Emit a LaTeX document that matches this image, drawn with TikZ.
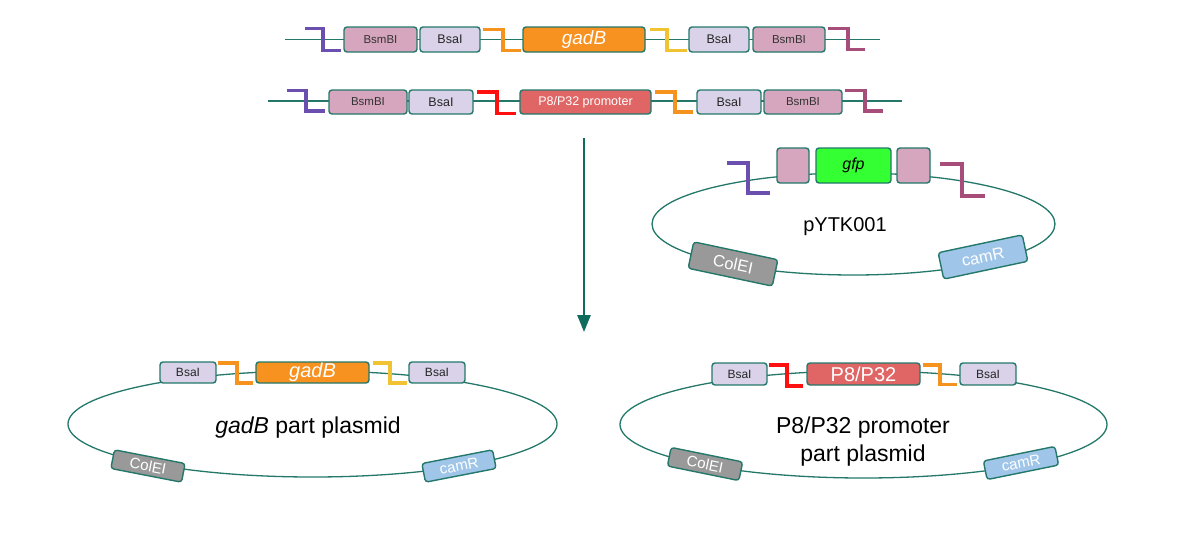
\documentclass[tikz,border=0pt]{standalone}
\usepackage{fontspec}
\setmainfont{Liberation Sans}
\usetikzlibrary{arrows.meta}
\definecolor{dnateal}{HTML}{23786A}
\definecolor{arrowteal}{HTML}{0F6B5B}
\definecolor{bsmbifill}{HTML}{D5A6BD}
\definecolor{bsaifill}{HTML}{D9D2E9}
\definecolor{ovpurple}{HTML}{6B4FAE}
\definecolor{ovorange}{HTML}{F6921E}
\definecolor{ovyellow}{HTML}{F1C232}
\definecolor{ovmaroon}{HTML}{A64D79}
\definecolor{ovred}{HTML}{FF1010}
\definecolor{gadbfill}{HTML}{F7911F}
\definecolor{promfill}{HTML}{E06666}
\definecolor{gfpfill}{HTML}{33FF33}
\definecolor{colefill}{HTML}{999999}
\definecolor{camrfill}{HTML}{9FC5E8}
\newcommand{\fs}[1]{\fontsize{#1}{#1}\selectfont}
\tikzset{
  backbone/.style={draw=dnateal, line width=1.3pt},
  partbox/.style={draw=dnateal, line width=1.4pt, rounded corners=3pt, inner sep=0pt},
  bsmbibox/.style={partbox, fill=bsmbifill, text=black!80, font=\fs{11.5}},
  bsaibox/.style={partbox, fill=bsaifill, text=black!85, font=\fs{12.5}},
  genebox/.style={partbox, text=white},
  resistbox/.style={partbox, text=white, font=\fs{15}},
  ovhang/.style={line width=3.5pt},
}
\begin{document}
\begin{tikzpicture}[x=1pt, y=-1pt]
\useasboundingbox (0,0) rectangle (1200,546);
% first part
\coordinate (r1s) at (285,39.5);
\coordinate (r1e) at (880,39.5);
\draw[backbone] (r1s) -- (r1e);
\draw[ovhang, ovpurple] (305,28.5) -| (323,50.5) -- (341,50.5);
\draw[ovhang, ovorange] (483,29.5) -| (503,50.5) -- (521,50.5);
\draw[ovhang, ovyellow] (650,29.5) -| (667,50.5) -- (687,50.5);
\draw[ovhang, ovmaroon] (828,28.5) -| (848,49.5) -- (865,49.5);
\node[bsmbibox, minimum width=73pt, minimum height=25pt] (r1bsmbiL) at (380.5,39.5) {BsmBI};
\node[bsaibox, minimum width=60pt, minimum height=25pt] (r1bsaiL) at (450,39.5) {BsaI};
\node[genebox, fill=gadbfill, minimum width=122pt, minimum height=25pt, font=\fs{19}\itshape] (r1gadb) at (584,39.5) {gadB};
\node[bsaibox, minimum width=60pt, minimum height=25pt] (r1bsaiR) at (719,39.5) {BsaI};
\node[bsmbibox, minimum width=72pt, minimum height=25pt] (r1bsmbiR) at (789,39.5) {BsmBI};
% second part
\coordinate (r2s) at (268,101);
\coordinate (r2e) at (902,101);
\draw[backbone] (r2s) -- (r2e);
\draw[ovhang, ovpurple] (287,90.5) -| (306,111) -- (325,111);
\draw[ovhang, ovred] (477,92) -| (497,113.5) -- (516,113.5);
\draw[ovhang, ovorange] (655,92) -| (675,112) -- (693,112);
\draw[ovhang, ovmaroon] (845,90.5) -| (865,111) -- (883,111);
\node[bsmbibox, minimum width=78pt, minimum height=24pt] (r2bsmbiL) at (368,102) {BsmBI};
\node[bsaibox, minimum width=64pt, minimum height=24pt] (r2bsaiL) at (441,102) {BsaI};
\node[genebox, fill=promfill, minimum width=131pt, minimum height=24pt, font=\fs{12.5}] (r2prom) at (585.5,102) {P8/P32 promoter};
\node[bsaibox, minimum width=64pt, minimum height=24pt] (r2bsaiR) at (729,102) {BsaI};
\node[bsmbibox, minimum width=78pt, minimum height=24pt] (r2bsmbiR) at (803,102) {BsmBI};
% assembly arrow
\coordinate (arrtop) at (584,138);
\coordinate (arrbot) at (584,332);
\draw[arrowteal, line width=2.6pt, -{Triangle[width=13pt,length=17pt]}] (arrtop) -- (arrbot);
% pYTK001
\draw[backbone] (853.5,224) ellipse [x radius=201.5pt, y radius=51pt];
\draw[ovhang, ovpurple] (727,163) -| (748,193) -- (770,193);
\draw[ovhang, ovmaroon] (940,164) -| (962,196) -- (985,196);
\node[partbox, fill=bsmbifill, minimum width=32pt, minimum height=35pt] (pkL) at (793,165.5) {};
\node[genebox, fill=gfpfill, text=black, minimum width=75pt, minimum height=35pt, font=\fs{16}\itshape] (gfp) at (853.5,165.5) {gfp};
\node[partbox, fill=bsmbifill, minimum width=33pt, minimum height=35pt] (pkR) at (913.5,165.5) {};
\node[font=\fs{20}] (pytk) at (845,227) {pYTK001};
\node[resistbox, font=\fs{16.5}, fill=colefill, minimum width=86pt, minimum height=27pt, rotate=-12] (pytkori) at (733,264) {ColEI};
\node[resistbox, font=\fs{16.5}, fill=camrfill, minimum width=86pt, minimum height=27pt, rotate=12] (pytkcam) at (983,257) {camR};
% gadB part plasmid
\draw[backbone] (312.5,424) ellipse [x radius=244.5pt, y radius=53pt];
\draw[ovhang, ovorange] (218,363) -| (237,383) -- (253,383);
\draw[ovhang, ovyellow] (373,363) -| (390,383) -- (407,383);
\node[bsaibox, font=\fs{12}, minimum width=56pt, minimum height=21pt] (gbsaiL) at (188,372.5) {BsaI};
\node[genebox, fill=gadbfill, minimum width=113pt, minimum height=21pt, font=\fs{20}\itshape] (ggadb) at (312.5,372.5) {gadB};
\node[bsaibox, font=\fs{12}, minimum width=56pt, minimum height=21pt] (gbsaiR) at (437,372.5) {BsaI};
\node[font=\fs{23}] (glabel) at (308,428) {\textit{gadB} part plasmid};
\node[resistbox, fill=colefill, minimum width=72pt, minimum height=19pt, rotate=-11] (gori) at (148,466) {ColEI};
\node[resistbox, fill=camrfill, minimum width=72pt, minimum height=19pt, rotate=11] (gcam) at (459,466) {camR};
% P8/P32 promoter part plasmid
\draw[backbone] (863.5,424.5) ellipse [x radius=243.5pt, y radius=53.5pt];
\draw[ovhang, ovred] (769,365) -| (787,386) -- (803,386);
\draw[ovhang, ovorange] (923,365) -| (940,384.5) -- (957,384.5);
\node[bsaibox, font=\fs{12}, minimum width=55pt, minimum height=22pt] (pbsaiL) at (739.5,374) {BsaI};
\node[genebox, fill=promfill, minimum width=113pt, minimum height=22pt, font=\fs{20}] (pprom) at (863.5,374) {P8/P32};
\node[bsaibox, font=\fs{12}, minimum width=56pt, minimum height=22pt] (pbsaiR) at (988,374) {BsaI};
\node[font=\fs{23}, align=center, text depth=0pt] (plabel) at (863,439) {P8/P32 promoter\\[5pt]part plasmid};
\node[resistbox, fill=colefill, minimum width=73pt, minimum height=19pt, rotate=-11.5] (pori) at (705,464) {ColEI};
\node[resistbox, fill=camrfill, minimum width=73pt, minimum height=19pt, rotate=11.5] (pcam) at (1021,463) {camR};
\end{tikzpicture}
\end{document}
